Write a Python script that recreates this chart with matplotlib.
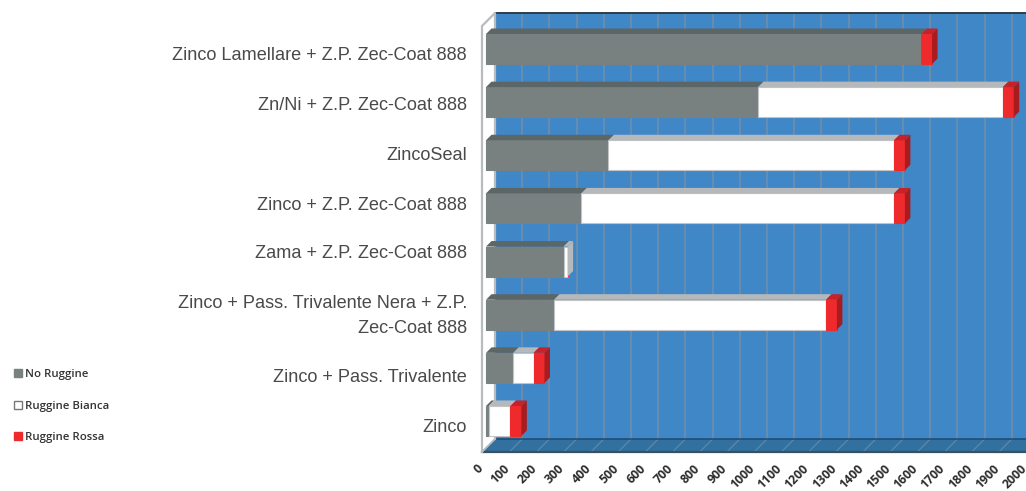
import matplotlib
matplotlib.use("Agg")
import matplotlib.pyplot as plt
import numpy as np
from matplotlib.patches import Patch
from matplotlib.transforms import ScaledTranslation, blended_transform_factory

categories = [
    "Zinco Lamellare + Z.P. Zec-Coat 888",
    "Zn/Ni + Z.P. Zec-Coat 888",
    "ZincoSeal",
    "Zinco + Z.P. Zec-Coat 888",
    "Zama + Z.P. Zec-Coat 888",
    "Zinco + Pass. Trivalente Nera + Z.P.\nZec-Coat 888",
    "Zinco + Pass. Trivalente",
    "Zinco",
]
no_ruggine = [1600, 1000, 450, 350, 285, 250, 100, 10]
ruggine_bianca = [0, 900, 1050, 1150, 15, 1000, 75, 80]
ruggine_rossa = [40, 40, 40, 40, 0, 40, 40, 40]
hours = list(range(0, 2001, 100))

W, H = 1026, 491
PX_PER_HOUR = 0.272
PX_PER_ROW = 53.14
ROW0_Y = 49
X0 = 486
AX_RIGHT = 1042  # runs past the canvas so the last tick stays in view
LABEL_Y = [56, 105, 155, 205, 254, 316, 377, 428]

BAR_H = 30 / PX_PER_ROW
DEPTH_X = 5.5 / PX_PER_HOUR
DEPTH_Y = 5.5 / PX_PER_ROW
WALL_X = 9 / PX_PER_HOUR
WALL_LEFT = -4 / PX_PER_HOUR

FACE = {"grey": "#788080", "white": "#ffffff", "red": "#ee2a2c"}
TOP = {"grey": "#5c6667", "white": "#b6b9bb", "red": "#c6222a"}
SIDE = {"grey": "#5c6667", "white": "#b6b9bb", "red": "#a81c20"}


def row_of(y):
    return (y - ROW0_Y) / PX_PER_ROW


def hour_of(x):
    return (x - X0) / PX_PER_HOUR


fig = plt.figure(figsize=(W / 100, H / 100), dpi=100, facecolor="white")
# axes span the front edge of the floor up to the top of the back wall
ax = fig.add_axes((482 / W, 1 - 452 / H, (AX_RIGHT - 482) / W, (452 - 13) / H))
for s in ax.spines.values():
    s.set_visible(False)
ax.patch.set_visible(False)

wall_top, wall_bottom = row_of(13), row_of(439)
floor_front = row_of(452)
right = hour_of(AX_RIGHT)

# back wall and floor
ax.fill_between([WALL_X, right], wall_top, wall_bottom, color="#4087c8", lw=0, zorder=1)
ax.fill([WALL_X, right, right, WALL_LEFT], [wall_bottom, wall_bottom, floor_front, floor_front],
        color="#31709f", lw=0, zorder=1)
for h in hours:
    ax.plot([h + WALL_X, h + WALL_X], [wall_top, wall_bottom], color="#728fa8", lw=1.1, zorder=2)
    ax.plot([h + WALL_X, h + WALL_LEFT], [wall_bottom, floor_front], color="#5d88aa", lw=0.9, zorder=2)
ax.plot([WALL_X, right], [wall_top, wall_top], color="#2c3d4a", lw=1.4, zorder=3, clip_on=False)
ax.plot([WALL_X, right], [wall_bottom, wall_bottom], color="#1e4a6e", lw=1.1, zorder=3)
ax.plot([WALL_LEFT, right], [floor_front, floor_front], color="#39505f", lw=1.6, zorder=3, clip_on=False)

# left wall outline
ax.plot([WALL_LEFT, WALL_LEFT, WALL_X, WALL_X],
        [floor_front, row_of(26), wall_top, wall_bottom], color="#b9bcbe", lw=1.6, zorder=3, clip_on=False)
ax.plot([WALL_LEFT, WALL_X], [floor_front, wall_bottom], color="#b9bcbe", lw=1.2, zorder=3)

rows = np.arange(len(categories))
series = [("grey", no_ruggine), ("white", ruggine_bianca), ("red", ruggine_rossa)]

# stacked bars with a fake 3D top and end cap
left = np.zeros(len(categories))
for key, values in series:
    values = np.array(values, dtype=float)
    ax.barh(rows, values, left=left, height=BAR_H, color=FACE[key],
            edgecolor="#c2c5c7" if key == "white" else FACE[key], lw=0.8, zorder=5)
    for r, l, v in zip(rows, left, values):
        if v == 0:
            continue
        y_top = r - BAR_H / 2
        ax.fill([l, l + v, l + v + DEPTH_X, l + DEPTH_X],
                [y_top, y_top, y_top - DEPTH_Y, y_top - DEPTH_Y], color=TOP[key], lw=0, zorder=5)
    left = left + values

# end cap takes the colour of the last non-empty segment
for r, g, b, red in zip(rows, no_ruggine, ruggine_bianca, ruggine_rossa):
    end = g + b + red
    key = "red" if red else "white"
    y_top, y_bot = r - BAR_H / 2, r + BAR_H / 2
    ax.fill([end, end + DEPTH_X, end + DEPTH_X, end],
            [y_bot, y_bot - DEPTH_Y, y_top - DEPTH_Y, y_top], color=SIDE[key], lw=0, zorder=6)

ax.set_yticks([])
ax.set_xticks(hours)
ax.set_xticklabels([str(h) for h in hours], rotation=45, ha="right", va="top", rotation_mode="anchor",
                   family="Open Sans", fontweight="bold", fontsize=8.8, color="#2b2b2b")
ax.tick_params(axis="x", length=0, pad=7.5)
shift = ScaledTranslation(-10 / 100, 0, fig.dpi_scale_trans)
for label in ax.get_xticklabels():
    label.set_transform(label.get_transform() + shift)

# set_xticks widens the view, so the limits go last
ax.set_xlim(hour_of(482), right)
ax.set_ylim(row_of(452), row_of(13))

# category labels sit on their own spacing, not the bar rows
trans = blended_transform_factory(fig.transFigure, ax.transData)
for name, y in zip(categories, LABEL_Y):
    ax.text(467 / W, row_of(y), name, transform=trans, ha="right", va="center", multialignment="right",
            family="Liberation Sans", fontsize=13.05, color="#4a4a4c", linespacing=1.62)

handles = [
    Patch(facecolor=FACE["grey"], edgecolor=FACE["grey"], label="No Ruggine"),
    Patch(facecolor="white", edgecolor="#777777", label="Ruggine Bianca"),
    Patch(facecolor=FACE["red"], edgecolor=FACE["red"], label="Ruggine Rossa"),
]
fig.legend(handles=handles, loc="upper left", bbox_to_anchor=(14 / W, 1 - 369 / H), frameon=False,
           handlelength=0.7, handleheight=0.7, handletextpad=0.3, labelspacing=1.8, borderpad=0, borderaxespad=0,
           prop={"family": "Open Sans", "size": 8.2, "weight": 600}, labelcolor="#333333")

fig.savefig("out.png", dpi=100)
